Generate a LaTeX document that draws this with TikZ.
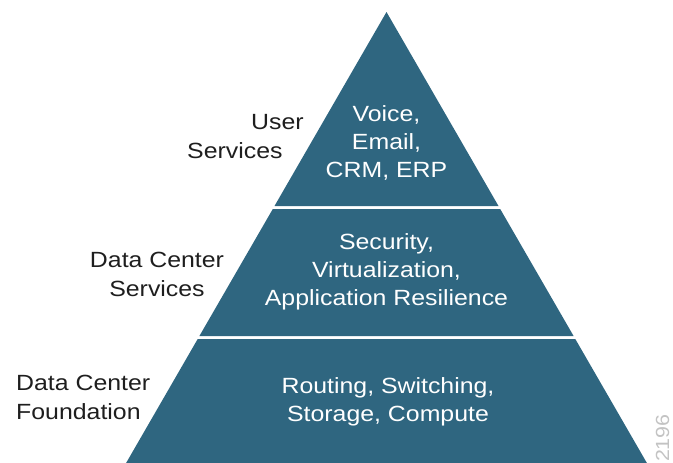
\documentclass[tikz,border=0pt]{standalone}
\usepackage{fontspec}
\setmainfont{Liberation Sans}[FakeStretch=1.13]
\definecolor{layerblue}{RGB}{47,102,128}
\definecolor{labelgray}{RGB}{30,30,30}
\definecolor{idgray}{RGB}{195,195,195}
\begin{document}
\begin{tikzpicture}[x=1pt, y=-1pt,
		layer/.style={fill=layerblue},
		intext/.style={text=white, align=center, anchor=north, inner sep=0pt, font=\fontsize{22}{28}\selectfont},
		sidetext/.style={text=labelgray, inner sep=0pt, font=\fontsize{22}{29}\selectfont}]
		\useasboundingbox (0,0) rectangle (673,463);
		% the three layers
		\fill[layer] (386.5,12) -- (498.5,206) -- (274.5,206) -- cycle;
		\fill[layer] (272.8,209) -- (500.2,209) -- (573.6,336) -- (199.4,336) -- cycle;
		\fill[layer] (197.7,339) -- (575.3,339) -- (646.9,463) -- (126.1,463) -- cycle;
		% texts in the layers
		\node[intext] (user) at (386.5,105) {Voice,\\Email,\\CRM, ERP};
		\node[intext] (dcserv) at (386.5,233) {Security,\\Virtualization,\\Application Resilience};
		\node[intext] (dcfound) at (388,377) {Routing, Switching,\\Storage, Compute};
		% labels on the left
		\node[sidetext, align=left, anchor=north west] (userlbl) at (187,114) {\hspace*{64pt}User\\Services};
		\node[sidetext, align=center, anchor=north] (dcservlbl) at (157,252) {Data Center\\Services};
		\node[sidetext, align=left, anchor=north west] (dcfoundlbl) at (16,375) {Data Center\\Foundation};
		\node[text=idgray, inner sep=0pt, rotate=90, anchor=base east, font=\fontsize{19}{24}\selectfont] (figid) at (669,414) {2196};
	\end{tikzpicture}
\end{document}
